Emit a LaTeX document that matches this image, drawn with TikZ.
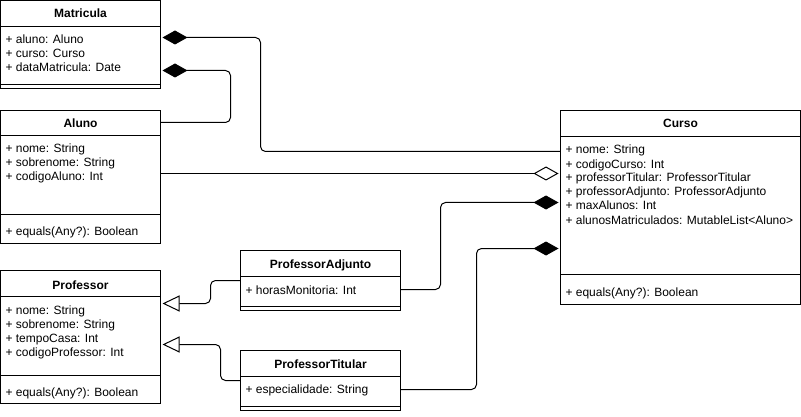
\documentclass[tikz,border=0pt]{standalone}
\usepackage{fontspec}
\setmainfont{Liberation Sans}
\usetikzlibrary{arrows.meta}
\begin{document}
\begin{tikzpicture}[x=1pt,y=-1pt,line width=1pt,
  box/.style={draw,rectangle,anchor=north west,inner sep=0pt,outer sep=0pt},
  txt/.style={anchor=base west,inner sep=0pt,font=\fontsize{12}{14}\selectfont},
  ttl/.style={anchor=base,inner sep=0pt,font=\fontsize{12}{14}\selectfont\bfseries},
  conn/.style={rounded corners=5pt},
  comp/.style={conn,{Diamond[length=25pt,width=14pt]}-,shorten <=2pt},
  aggr/.style={conn,{Diamond[open,length=25pt,width=14pt]}-,shorten <=2pt},
  inh/.style={conn,{Triangle[open,length=17pt,width=16pt]}-,shorten <=2pt}]
\useasboundingbox (0,0) rectangle (801,417);
% Matricula
\node[box,minimum width=160pt,minimum height=88pt] (mat) at (0.5,0.5) {};
\draw (mat.west |- 0,26.5) -- (mat.east |- 0,26.5);
\draw (mat.west |- 0,84.5) -- (mat.east |- 0,84.5);
\node[ttl] (matT) at (80.5,18) {Matricula};
\foreach \t [count=\i from 0] in {{+ aluno: Aluno},{+ curso: Curso},{+ dataMatricula: Date}}
  \node[txt] (matA\i) at (5,44+14*\i) {\t};
% Aluno
\node[box,minimum width=160pt,minimum height=133pt] (alu) at (0.5,110.5) {};
\draw (alu.west |- 0,135.5) -- (alu.east |- 0,135.5);
\draw (alu.west |- 0,214.5) -- (alu.east |- 0,214.5);
\node[ttl] (aluT) at (80.5,128) {Aluno};
\foreach \t [count=\i from 0] in {{+ nome: String},{+ sobrenome: String},{+ codigoAluno: Int}}
  \node[txt] (aluA\i) at (5,153+14*\i) {\t};
\node[txt] (aluO) at (5,236) {+ equals(Any?): Boolean};
% Professor
\node[box,minimum width=160pt,minimum height=133pt] (pro) at (0.5,270.5) {};
\draw (pro.west |- 0,296.5) -- (pro.east |- 0,296.5);
\draw (pro.west |- 0,375.5) -- (pro.east |- 0,375.5);
\node[ttl] (proT) at (80.5,289) {Professor};
\foreach \t [count=\i from 0] in {{+ nome: String},{+ sobrenome: String},{+ tempoCasa: Int},{+ codigoProfessor: Int}}
  \node[txt] (proA\i) at (5,314+14*\i) {\t};
\node[txt] (proO) at (5,396) {+ equals(Any?): Boolean};
% Curso
\node[box,minimum width=240pt,minimum height=194pt] (cur) at (560.5,110.5) {};
\draw (cur.west |- 0,136.5) -- (cur.east |- 0,136.5);
\draw (cur.west |- 0,274.5) -- (cur.east |- 0,274.5);
\node[ttl] (curT) at (680.5,128) {Curso};
\foreach \t [count=\i from 0] in {{+ nome: String},{+ codigoCurso: Int},{+ professorTitular: ProfessorTitular},{+ professorAdjunto: ProfessorAdjunto},{+ maxAlunos: Int},{+ alunosMatriculados: MutableList<Aluno>}}
  \node[txt] (curA\i) at (565,154+14*\i) {\t};
\node[txt] (curO) at (565,296) {+ equals(Any?): Boolean};
% ProfessorAdjunto
\node[box,minimum width=160pt,minimum height=60pt] (pad) at (240.5,250.5) {};
\draw (pad.west |- 0,276.5) -- (pad.east |- 0,276.5);
\draw (pad.west |- 0,306.5) -- (pad.east |- 0,306.5);
\node[ttl] (padT) at (320.5,268) {ProfessorAdjunto};
\node[txt] (padA) at (245,294) {+ horasMonitoria: Int};
% ProfessorTitular
\node[box,minimum width=160pt,minimum height=60pt] (pti) at (240.5,350.5) {};
\draw (pti.west |- 0,376.5) -- (pti.east |- 0,376.5);
\draw (pti.west |- 0,406.5) -- (pti.east |- 0,406.5);
\node[ttl] (ptiT) at (320.5,368) {ProfessorTitular};
\node[txt] (ptiA) at (245,393) {+ especialidade: String};
% connectors
\draw[comp] (mat.east |- 0,37.5) -- (260.5,37.5) -- (260.5,151.5) -- (cur.west |- 0,151.5);
\draw[comp] (mat.east |- 0,70.5) -- (230.5,70.5) -- (230.5,122.5) -- (alu.east |- 0,122.5);
\draw[aggr] (cur.west |- 0,173.5) -- (alu.east |- 0,173.5);
\draw[comp] (cur.west |- 0,202.5) -- (440.5,202.5) -- (440.5,289.5) -- (pad.east |- 0,289.5);
\draw[comp] (cur.west |- 0,248.5) -- (476.5,248.5) -- (476.5,389.5) -- (pti.east |- 0,389.5);
\draw[inh] (pro.east |- 0,303.5) -- (210.5,303.5) -- (210.5,280.5) -- (pad.west |- 0,280.5);
\draw[inh] (pro.east |- 0,344.5) -- (220.5,344.5) -- (220.5,380.5) -- (pti.west |- 0,380.5);
\end{tikzpicture}
\end{document}
